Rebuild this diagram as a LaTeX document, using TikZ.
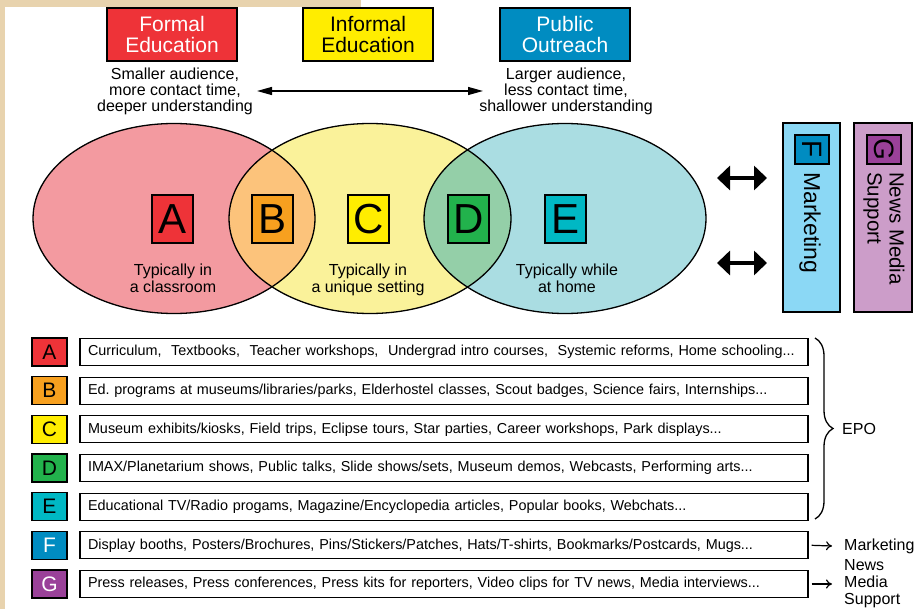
\documentclass[tikz,border=0pt]{standalone}
\usepackage{fontspec}
\setmainfont{Liberation Sans}
\usetikzlibrary{arrows.meta,decorations.pathreplacing}
\definecolor{beige}{HTML}{E8D3AE}
\definecolor{cred}{HTML}{EE3338}
\definecolor{cyel}{HTML}{FFED00}
\definecolor{cblue}{HTML}{008CC1}
\definecolor{cpink}{HTML}{F39AA0}
\definecolor{clyel}{HTML}{FAF29A}
\definecolor{clcyan}{HTML}{AADDE2}
\definecolor{clensB}{HTML}{FCC37B}
\definecolor{clensD}{HTML}{94CFA8}
\definecolor{corange}{HTML}{F7A01F}
\definecolor{cgreen}{HTML}{22B24C}
\definecolor{cteal}{HTML}{00B8C4}
\definecolor{cmkt}{HTML}{8BD8F5}
\definecolor{cnews}{HTML}{CC9DC9}
\definecolor{cpurple}{HTML}{9A4199}
\frenchspacing
\begin{document}
\begin{tikzpicture}[x=1pt,y=-1pt,
  topbox/.style={draw=black, line width=1.3pt, minimum width=130pt, minimum height=53pt, inner sep=0pt, align=center, font=\fontsize{21}{21}\selectfont},
  captxt/.style={align=center, font=\fontsize{16}{16}\selectfont, inner sep=0pt},
  vletter/.style={draw, line width=1.3pt, minimum width=41pt, minimum height=48pt, inner sep=0pt, font=\fontsize{42}{42}\selectfont},
  vtext/.style={align=center, font=\fontsize{16}{17}\selectfont, inner sep=0pt},
  lletter/.style={draw, line width=1.3pt, minimum width=35pt, minimum height=28pt, inner sep=0pt, font=\fontsize{21}{21}\selectfont},
  lbox/.style={draw, line width=1.3pt, minimum width=728pt, minimum height=27pt, text width=712pt, align=left, inner xsep=8pt, inner ysep=0pt, font=\fontsize{14.4}{15}\selectfont},
  sidelbl/.style={anchor=west, align=left, inner sep=0pt, font=\fontsize{16}{17}\selectfont},
  ell/.style={line width=1.3pt},
  rlet/.style={draw, line width=1.3pt, inner sep=0pt, rotate=-90, minimum width=29pt, minimum height=34pt, font=\fontsize{28}{28}\selectfont},
  bigdbl/.style={line width=4pt, {Triangle[length=13pt,width=24pt]}-{Triangle[length=13pt,width=24pt]}},
  thinarr/.style={line width=1.2pt, -{To[length=6pt,width=9pt]}}
]
\useasboundingbox (0,0) rectangle (915,609);
\fill[white] (0,0) rectangle (915,609);
\fill[beige] (0,0) rectangle (5,609);
\fill[beige] (0,0) rectangle (361,7);

% top boxes
\node[topbox, fill=cred, text=white] (formal) at (172,34.5) {Formal\\Education};
\node[topbox, fill=cyel] (informal) at (368,34.5) {Informal\\Education};
\node[topbox, fill=cblue, text=white] (public) at (565,34.5) {Public\\Outreach};
\node[captxt] (capL) at (175,91) {Smaller audience,\\more contact time,\\deeper understanding};
\node[captxt] (capR) at (566,91) {Larger audience,\\less contact time,\\shallower understanding};
\coordinate (arrL) at (257,91);
\coordinate (arrR) at (483,91);
\draw[line width=1.3pt, {Triangle[length=15pt,width=8pt]}-{Triangle[length=15pt,width=8pt]}] (arrL) -- (arrR);

% venn
\fill[cpink] (174,218.5) ellipse [x radius=141pt, y radius=95pt];
\fill[clyel] (370,218.5) ellipse [x radius=141pt, y radius=95pt];
\fill[clcyan] (565,218.5) ellipse [x radius=141pt, y radius=95pt];
\begin{scope}
  \clip (174,218.5) ellipse [x radius=141pt, y radius=95pt];
  \fill[clensB] (370,218.5) ellipse [x radius=141pt, y radius=95pt];
\end{scope}
\begin{scope}
  \clip (370,218.5) ellipse [x radius=141pt, y radius=95pt];
  \fill[clensD] (565,218.5) ellipse [x radius=141pt, y radius=95pt];
\end{scope}
\draw[ell] (174,218.5) ellipse [x radius=141pt, y radius=95pt];
\draw[ell] (370,218.5) ellipse [x radius=141pt, y radius=95pt];
\draw[ell] (565,218.5) ellipse [x radius=141pt, y radius=95pt];

\node[vletter, fill=cred] (vA) at (172.5,219) {A};
\node[vletter, fill=corange] (vB) at (272.5,219) {B};
\node[vletter, fill=cyel] (vC) at (368.5,219) {C};
\node[vletter, fill=cgreen] (vD) at (468.5,219) {D};
\node[vletter, fill=cteal] (vE) at (565.5,219) {E};
\node[vtext] (tA) at (173,280.5) {Typically in\\a classroom\strut};
\node[vtext] (tC) at (368,280.5) {Typically in\\a unique setting\strut};
\node[vtext] (tE) at (567,280.5) {Typically while\\at home\strut};

% double arrows
\coordinate (d1l) at (717,178);
\coordinate (d1r) at (767,178);
\coordinate (d2l) at (717,263);
\coordinate (d2r) at (767,263);
\draw[bigdbl] (d1l) -- (d1r);
\draw[bigdbl] (d2l) -- (d2r);

% side boxes
\node[draw, line width=1.3pt, fill=cmkt, minimum width=57pt, minimum height=189pt, inner sep=0pt] (mktbox) at (811.5,217.5) {};
\node[rlet, fill=cblue] (Fbox) at (812,149.5) {F};
\node[rotate=-90, anchor=west, inner sep=0pt, font=\fontsize{23}{23}\selectfont] (mkttxt) at (810,172) {Marketing};
\node[draw, line width=1.3pt, fill=cnews, minimum width=58pt, minimum height=189pt, inner sep=0pt] (newsbox) at (883,217.5) {};
\node[rlet, fill=cpurple] (Gbox) at (884,149.5) {G};
\node[rotate=-90, anchor=west, align=left, inner sep=0pt, font=\fontsize{20.5}{22}\selectfont] (newstxt) at (884,172) {News Media\\Support};

% list
\node[lletter, fill=cred] (lA) at (49.5,352) {A};
\node[lletter, fill=corange] (lB) at (49.5,390.7) {B};
\node[lletter, fill=cyel] (lC) at (49.5,429.3) {C};
\node[lletter, fill=cgreen] (lD) at (49.5,468) {D};
\node[lletter, fill=cteal] (lE) at (49.5,506.7) {E};
\node[lletter, fill=cblue, text=white] (lF) at (49.5,545.3) {F};
\node[lletter, fill=cpurple, text=white] (lG) at (49.5,584) {G};

\node[lbox] (rA) at (444,352) {Curriculum,\ \ Textbooks,\ \ Teacher workshops,\ \ Undergrad intro courses,\ \ Systemic reforms, Home schooling...};
\node[lbox] (rB) at (444,390.7) {Ed. programs at museums/libraries/parks, Elderhostel classes, Scout badges, Science fairs, Internships...};
\node[lbox] (rC) at (444,429.3) {Museum exhibits/kiosks, Field trips, Eclipse tours, Star parties, Career workshops, Park displays...};
\node[lbox] (rD) at (444,468) {IMAX/Planetarium shows, Public talks, Slide shows/sets, Museum demos, Webcasts, Performing arts...};
\node[lbox] (rE) at (444,506.7) {Educational TV/Radio progams, Magazine/Encyclopedia articles, Popular books, Webchats...};
\node[lbox] (rF) at (444,545.3) {Display booths, Posters/Brochures, Pins/Stickers/Patches, Hats/T-shirts, Bookmarks/Postcards, Mugs...};
\node[lbox] (rG) at (444,584) {Press releases, Press conferences, Press kits for reporters, Video clips for TV news, Media interviews...};

\coordinate (brTop) at (815,338);
\coordinate (brBot) at (815,519);
\draw[line width=1.3pt, decorate, decoration={brace, amplitude=18pt}] (brTop) -- (brBot);
\node[sidelbl] (epo) at (842,429) {EPO};

\node[sidelbl] (mklbl) at (844,546) {Marketing};
\node[sidelbl] (nwlbl) at (844,584) {News\\Media\\Support};
\draw[thinarr] ([xshift=3pt]rF.east) -- ([xshift=-12pt]mklbl.west);
\draw[thinarr] ([xshift=3pt]rG.east) -- ([xshift=-12pt]nwlbl.west);
\end{tikzpicture}
\end{document}
